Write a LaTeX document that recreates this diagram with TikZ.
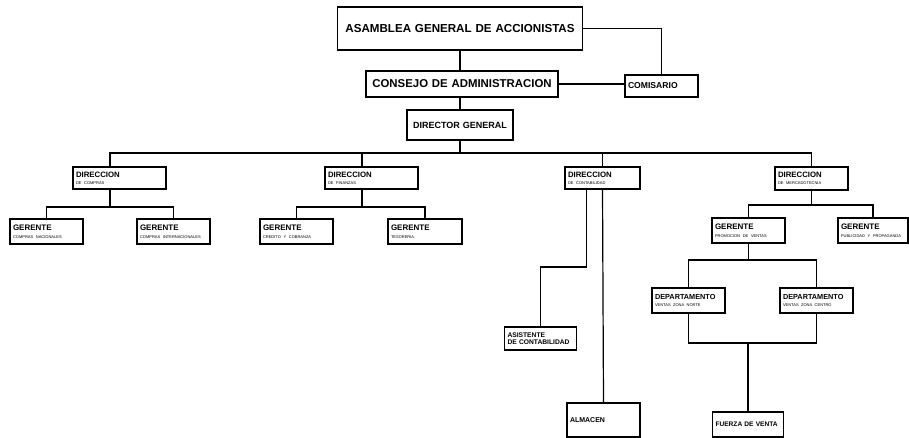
\documentclass[tikz,border=0pt]{standalone}
\usepackage{fontspec}
\setmainfont{Liberation Sans}
\usetikzlibrary{positioning,calc}
\newcommand{\orgsize}[1]{\fontsize{#1}{#1}\selectfont}
\newcommand{\orgsub}[1]{\\[-0.5pt]{\mdseries\orgsize{4}#1}}

\begin{document}
\begin{tikzpicture}[x=1pt,y=-1pt,
    orgbox/.style={draw, line width=1.2pt, inner xsep=3pt, inner ysep=1pt, align=left, font=\bfseries},
    link/.style={line width=1.2pt}]
    \useasboundingbox (0,0) rectangle (909,438);

    % Top
    \node[orgbox, text width=239pt, minimum height=43pt, align=center, font=\bfseries\orgsize{11.6}] (asamblea) at (460,28.5) {ASAMBLEA GENERAL DE ACCIONISTAS};
    \node[orgbox, text width=186pt, minimum height=26pt, align=center, font=\bfseries\orgsize{11.4}] (consejo) at (462,84) {CONSEJO DE ADMINISTRACION};
    \node[orgbox, text width=67pt, minimum height=22pt, font=\bfseries\orgsize{8.6}] (comisario) at (661.5,86) {COMISARIO};
    \node[orgbox, text width=100pt, minimum height=30pt, align=center, font=\bfseries\orgsize{9}] (director) at (460,125) {DIRECTOR GENERAL};

    % Direcciones
    \node[orgbox, text width=87pt, minimum height=22pt, font=\bfseries\orgsize{7.8}] (dcompras) at (119.5,178) {DIRECCION\orgsub{DE COMPRAS}};
    \node[orgbox, text width=87pt, minimum height=22pt, font=\bfseries\orgsize{7.8}] (dfinan) at (371.5,178) {DIRECCION\orgsub{DE FINANZAS}};
    \node[orgbox, text width=69pt, minimum height=22pt, font=\bfseries\orgsize{7.8}] (dconta) at (602.5,178) {DIRECCION\orgsub{DE CONTABILIDAD}};
    \node[orgbox, text width=67pt, minimum height=23pt, font=\bfseries\orgsize{7.8}] (dmerc) at (811.5,178.5) {DIRECCION\orgsub{DE MERCADOTECNIA}};

    % Gerentes
    \node[orgbox, text width=67pt, minimum height=25pt, font=\bfseries\orgsize{8}] (gnac) at (46.5,231.5) {GERENTE\orgsub{COMPRAS NACIONALES}};
    \node[orgbox, text width=67pt, minimum height=25pt, font=\bfseries\orgsize{8}] (gint) at (173.5,231.5) {GERENTE\orgsub{COMPRAS INTERNACIONALES}};
    \node[orgbox, text width=67pt, minimum height=25pt, font=\bfseries\orgsize{8}] (gcred) at (296.5,231.5) {GERENTE\orgsub{CREDITO Y COBRANZA}};
    \node[orgbox, text width=68pt, minimum height=25pt, font=\bfseries\orgsize{8}] (gteso) at (425,231.5) {GERENTE\orgsub{TESORERIA}};
    \node[orgbox, text width=67pt, minimum height=25pt, font=\bfseries\orgsize{8}] (gpromo) at (748.5,230.5) {GERENTE\orgsub{PROMOCION DE VENTAS}};
    \node[orgbox, text width=64pt, minimum height=25pt, font=\bfseries\orgsize{8}] (gpubli) at (873,230.5) {GERENTE\orgsub{PUBLICIDAD Y PROPAGANDA}};

    % Departamentos
    \node[orgbox, text width=67pt, minimum height=25pt, font=\bfseries\orgsize{7.3}] (dnorte) at (688.5,300.5) {DEPARTAMENTO\orgsub{VENTAS ZONA NORTE}};
    \node[orgbox, text width=67pt, minimum height=25pt, font=\bfseries\orgsize{7.3}] (dcentro) at (816.5,300.5) {DEPARTAMENTO\orgsub{VENTAS ZONA CENTRO}};
    \node[orgbox, text width=66pt, minimum height=23pt, font=\bfseries\fontsize{6.7}{7.4}\selectfont] (asist) at (540.5,338.5) {ASISTENTE\\DE CONTABILIDAD};
    \node[orgbox, text width=67pt, minimum height=34pt, font=\bfseries\orgsize{7}] (almacen) at (603.5,420) {ALMACEN};
    \node[orgbox, text width=65pt, minimum height=25pt, font=\bfseries\orgsize{6.6}] (fuerza) at (748,424.5) {FUERZA DE VENTA};

    % Lines
    \coordinate (bus) at (0,153);
    \coordinate (subc) at (0,207);
    \coordinate (subm) at (0,205);
    \coordinate (subd) at (0,260);
    \coordinate (subf) at (0,343);
    \coordinate (subk) at (0,267);

    \draw[link] (asamblea.south) -- (asamblea.south |- consejo.north);
    \draw[link] (asamblea.east) -| (comisario.north);
    \draw[link] (consejo.east) -- (consejo.east -| comisario.west);
    \draw[link] (director.north |- consejo.south) -- (director.north);

    \draw[link] ([xshift=-9.5pt]dcompras.north) |- (bus -| dmerc.north) -- (dmerc.north);
    \draw[link] ([xshift=-9.5pt]dfinan.north) -- ([xshift=-9.5pt]dfinan.north |- bus);
    \draw[link] (dconta.north) -- (dconta.north |- bus);
    \draw[link] (director.south) -- (director.south |- bus);

    % Compras
    \draw[link] ([xshift=-9.5pt]dcompras.south) -- ([xshift=-9.5pt]dcompras.south |- subc);
    \draw[link] (gnac.north) |- (subc -| gint.north) -- (gint.north);

    % Finanzas
    \draw[link] ([xshift=-9.5pt]dfinan.south) -- ([xshift=-9.5pt]dfinan.south |- subc);
    \draw[link] (gcred.north) |- (subc -| gteso.north) -- (gteso.north);

    % Contabilidad
    \draw[link] ([xshift=-16pt]dconta.south) |- (subk -| asist.north) -- (asist.north);
    \draw[link] (dconta.south) -- (almacen.north);

    % Mercadotecnia
    \draw[link] (dmerc.south) -- (dmerc.south |- subm);
    \draw[link] (gpromo.north) |- (subm -| gpubli.north) -- (gpubli.north);
    \draw[link] (gpromo.south) -- (gpromo.south |- subd);
    \draw[link] (dnorte.north) |- (subd -| dcentro.north) -- (dcentro.north);
    \draw[link] (dnorte.south) |- (subf -| dcentro.south) -- (dcentro.south);
    \draw[link] (fuerza.north |- subf) -- (fuerza.north);
\end{tikzpicture}
\end{document}
